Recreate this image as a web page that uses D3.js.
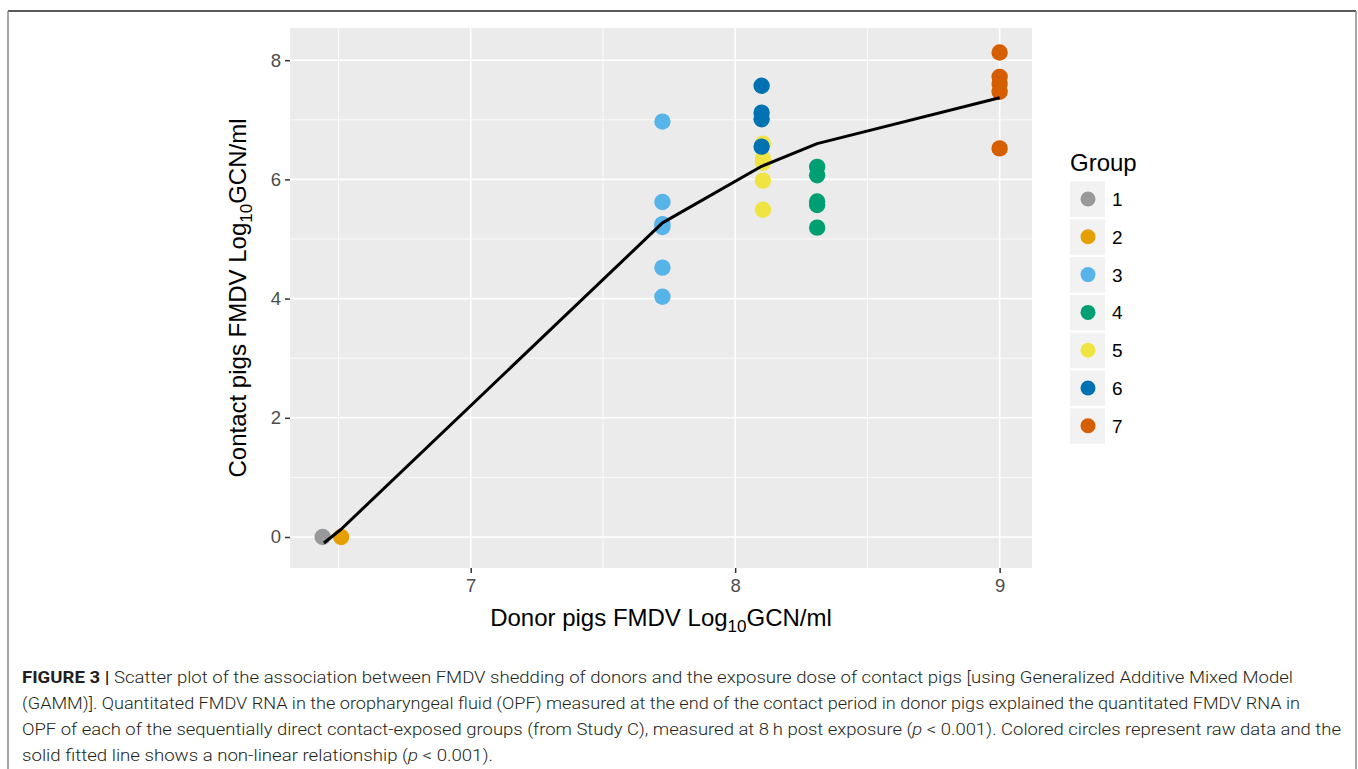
<!DOCTYPE html>
<html>
<head>
<meta charset="utf-8">
<script src="https://cdn.jsdelivr.net/npm/d3@7"></script>
<style>
  body { margin: 0; background: #fff; }
  svg text { font-family: "Liberation Sans", Arial, sans-serif; }
  .caption { font-family: Roboto, "Liberation Sans", sans-serif; font-weight: 300; fill: #231f20; }
</style>
</head>
<body>
<svg id="chart" width="1358" height="769"></svg>
<script>
// raw data: donor level (x) and contact level (y) per group
var GROUPS = ['1', '2', '3', '4', '5', '6', '7'];
var GROUP_COLOR = ['#999999', '#E69F00', '#56B4E9', '#009E73', '#F0E442', '#0072B2', '#D55E00'];
var DONOR = [6.44, 6.51, 7.725, 8.31, 8.105, 8.1, 9.0];
var CONTACT = [
    [0],
    [0],
    [6.97, 5.62, 5.25, 5.20, 4.52, 4.03],
    [6.21, 6.07, 5.63, 5.57, 5.19],
    [6.60, 6.35, 6.28, 5.98, 5.49],
    [7.57, 7.12, 7.01, 6.55],
    [8.13, 7.72, 7.60, 7.47, 6.52]
];
// GAMM fitted line
var FIT_X = [6.445, 6.51, 7.725, 8.1, 8.31, 9.0];
var FIT_Y = [-0.1, 0.13, 5.27, 6.22, 6.6, 7.37];
var X_TICKS = [7, 8, 9];
var Y_TICKS = [0, 2, 4, 6, 8];
var CAPTION = [
    [['b', 'FIGURE 3 | '], ['n', 'Scatter plot of the association between FMDV shedding of donors and the exposure dose of contact pigs [using Generalized Additive Mixed Model']],
    [['n', '(GAMM)]. Quantitated FMDV RNA in the oropharyngeal fluid (OPF) measured at the end of the contact period in donor pigs explained the quantitated FMDV RNA in']],
    [['n', 'OPF of each of the sequentially direct contact-exposed groups (from Study C), measured at 8\u2009h post exposure ('], ['i', 'p'], ['n', ' < 0.001). Colored circles represent raw data and the']],
    [['n', 'solid fitted line shows a non-linear relationship ('], ['i', 'p'], ['n', ' < 0.001).']]
];
var CAPTION_END = [1293, 1300, 1341, 493];

var svg = d3.select('#chart');

// figure frame
svg.append('line').attr('x1', 8).attr('x2', 1356).attr('y1', 11).attr('y2', 11)
    .style('stroke', '#222').style('stroke-width', 1.5);
svg.append('line').attr('x1', 8).attr('x2', 8).attr('y1', 11).attr('y2', 769)
    .style('stroke', '#888').style('stroke-width', 1.5);
svg.append('line').attr('x1', 1356).attr('x2', 1356).attr('y1', 11).attr('y2', 769)
    .style('stroke', '#888').style('stroke-width', 1.5);

var pLeft = 290, pRight = 1032, pTop = 28, pBottom = 568;
var x = d3.scaleLinear().domain([6.3167, 9.1224]).range([pLeft, pRight]);
var y = d3.scaleLinear().domain([-0.52, 8.54]).range([pBottom, pTop]);

svg.append('rect').attr('x', pLeft).attr('y', pTop)
    .attr('width', pRight - pLeft).attr('height', pBottom - pTop)
    .style('fill', '#ebebeb');

var g = svg.append('g');
// minor grid
g.selectAll('.xminor').data([6.5, 7.5, 8.5]).enter().append('line')
    .attr('x1', d => x(d)).attr('x2', d => x(d)).attr('y1', pTop).attr('y2', pBottom)
    .style('stroke', '#fff').style('stroke-width', 0.8);
g.selectAll('.yminor').data([1, 3, 5, 7]).enter().append('line')
    .attr('y1', d => y(d)).attr('y2', d => y(d)).attr('x1', pLeft).attr('x2', pRight)
    .style('stroke', '#fff').style('stroke-width', 0.8);
// major grid
g.selectAll('.xmajor').data(X_TICKS).enter().append('line')
    .attr('x1', d => x(d)).attr('x2', d => x(d)).attr('y1', pTop).attr('y2', pBottom)
    .style('stroke', '#fff').style('stroke-width', 1.6);
g.selectAll('.ymajor').data(Y_TICKS).enter().append('line')
    .attr('y1', d => y(d)).attr('y2', d => y(d)).attr('x1', pLeft).attr('x2', pRight)
    .style('stroke', '#fff').style('stroke-width', 1.6);

// axes
var xAxis = svg.append('g').attr('transform', 'translate(0,' + pBottom + ')')
    .call(d3.axisBottom(x).tickValues(X_TICKS).tickSize(5).tickPadding(6).tickFormat(d3.format('d')));
var yAxis = svg.append('g').attr('transform', 'translate(' + pLeft + ',0)')
    .call(d3.axisLeft(y).tickValues(Y_TICKS).tickSize(5).tickPadding(4).tickFormat(d3.format('d')));
[xAxis, yAxis].forEach(function (a) {
    a.select('.domain').remove();
    a.selectAll('line').style('stroke', '#333').style('stroke-width', 1.5);
    a.selectAll('text').style('fill', '#4d4d4d').style('font-size', '18.5px')
        .style('font-family', '"Liberation Sans", Arial, sans-serif');
});

// points
var pts = [];
GROUPS.forEach(function (gr, i) {
    CONTACT[i].forEach(function (v) { pts.push({ g: i, x: DONOR[i], y: v }); });
});
svg.selectAll('.pt').data(pts).enter().append('circle')
    .attr('cx', d => x(d.x)).attr('cy', d => y(d.y)).attr('r', 8.2)
    .style('fill', d => GROUP_COLOR[d.g]);

// fitted line
var lineGen = d3.line().x(d => x(d[0])).y(d => y(d[1]));
svg.append('path').datum(d3.zip(FIT_X, FIT_Y))
    .attr('d', lineGen)
    .style('fill', 'none').style('stroke', '#000').style('stroke-width', 3)
    .style('stroke-linejoin', 'round');

// axis titles
var xt = svg.append('text').attr('x', (pLeft + pRight) / 2).attr('y', 626)
    .attr('text-anchor', 'middle').style('font-size', '24px').style('fill', '#000');
xt.append('tspan').text('Donor pigs FMDV Log');
xt.append('tspan').text('10').style('font-size', '17px').attr('dy', 6);
xt.append('tspan').text('GCN/ml').attr('dy', -6);

var yt = svg.append('text')
    .attr('transform', 'translate(246,' + ((pTop + pBottom) / 2) + ') rotate(-90)')
    .attr('text-anchor', 'middle').style('font-size', '24px').style('fill', '#000');
yt.append('tspan').text('Contact pigs FMDV Log');
yt.append('tspan').text('10').style('font-size', '17px').attr('dy', 6);
yt.append('tspan').text('GCN/ml').attr('dy', -6);

// legend
var legend = svg.append('g').attr('transform', 'translate(1070,0)');
legend.append('text').attr('x', 0).attr('y', 171).text('Group')
    .style('font-size', '24px').style('fill', '#000');
var items = legend.selectAll('.key').data(GROUPS).enter().append('g')
    .attr('transform', (d, i) => 'translate(0,' + (199 + i * 37.8) + ')');
items.append('rect').attr('x', 0).attr('y', -17.5).attr('width', 35).attr('height', 35.5)
    .style('fill', '#f2f2f2');
items.append('circle').attr('cx', 18).attr('cy', 0).attr('r', 7.5)
    .style('fill', (d, i) => GROUP_COLOR[i]);
items.append('text').attr('x', 42).attr('y', 7).text(d => d)
    .style('font-size', '19px').style('fill', '#000');

// caption
CAPTION.forEach(function (line, li) {
    var t = svg.append('text').attr('class', 'caption')
        .attr('x', 22).attr('y', 683 + li * 26).style('font-size', '16.5px');
    line.forEach(function (part) {
        var s = t.append('tspan').text(part[1]);
        if (part[0] === 'b') s.style('font-weight', 700);
        if (part[0] === 'i') s.style('font-style', 'italic');
    });
    t.attr('textLength', CAPTION_END[li] - 22).attr('lengthAdjust', 'spacingAndGlyphs');
});
</script>
</body>
</html>
